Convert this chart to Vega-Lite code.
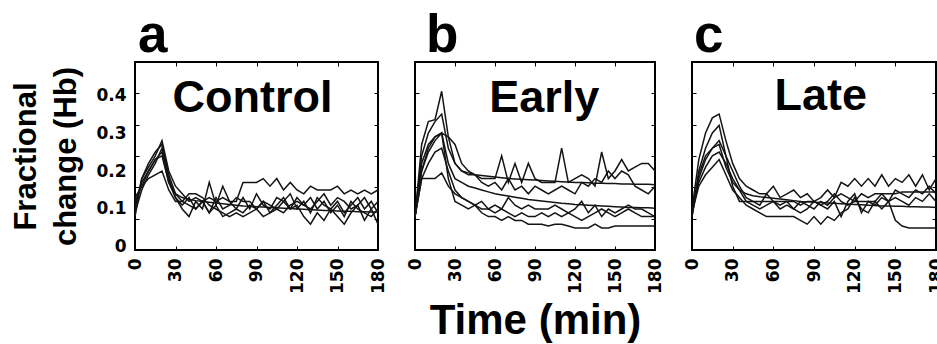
{
"$schema": "https://vega.github.io/schema/vega-lite/v6.json",
"padding": {"left": 9, "top": 8, "right": 0, "bottom": 0},
"bounds": "flush",
"spacing": 37,
"datasets": {
"a": [
{"s":1,"t":0,"v":0.10},{"s":1,"t":5,"v":0.18},{"s":1,"t":10,"v":0.21},{"s":1,"t":15,"v":0.24},{"s":1,"t":20,"v":0.28},{"s":1,"t":25,"v":0.20},{"s":1,"t":30,"v":0.16},{"s":1,"t":35,"v":0.14},{"s":1,"t":40,"v":0.12},{"s":1,"t":45,"v":0.13},{"s":1,"t":50,"v":0.12},{"s":1,"t":55,"v":0.13},{"s":1,"t":60,"v":0.12},{"s":1,"t":65,"v":0.13},{"s":1,"t":70,"v":0.12},{"s":1,"t":75,"v":0.12},{"s":1,"t":80,"v":0.17},{"s":1,"t":85,"v":0.17},{"s":1,"t":90,"v":0.17},{"s":1,"t":95,"v":0.18},{"s":1,"t":100,"v":0.16},{"s":1,"t":105,"v":0.18},{"s":1,"t":110,"v":0.15},{"s":1,"t":115,"v":0.17},{"s":1,"t":120,"v":0.15},{"s":1,"t":125,"v":0.14},{"s":1,"t":130,"v":0.16},{"s":1,"t":135,"v":0.15},{"s":1,"t":140,"v":0.15},{"s":1,"t":145,"v":0.15},{"s":1,"t":150,"v":0.16},{"s":1,"t":155,"v":0.14},{"s":1,"t":160,"v":0.15},{"s":1,"t":165,"v":0.14},{"s":1,"t":170,"v":0.15},{"s":1,"t":175,"v":0.14},{"s":1,"t":180,"v":0.15},
{"s":2,"t":0,"v":0.12},{"s":2,"t":5,"v":0.16},{"s":2,"t":10,"v":0.20},{"s":2,"t":15,"v":0.23},{"s":2,"t":20,"v":0.25},{"s":2,"t":25,"v":0.17},{"s":2,"t":30,"v":0.14},{"s":2,"t":35,"v":0.13},{"s":2,"t":40,"v":0.125},{"s":2,"t":45,"v":0.122},{"s":2,"t":50,"v":0.12},{"s":2,"t":55,"v":0.118},{"s":2,"t":60,"v":0.116},{"s":2,"t":65,"v":0.114},{"s":2,"t":70,"v":0.112},{"s":2,"t":75,"v":0.11},{"s":2,"t":80,"v":0.108},{"s":2,"t":85,"v":0.107},{"s":2,"t":90,"v":0.106},{"s":2,"t":95,"v":0.105},{"s":2,"t":100,"v":0.104},{"s":2,"t":105,"v":0.103},{"s":2,"t":110,"v":0.102},{"s":2,"t":115,"v":0.101},{"s":2,"t":120,"v":0.10},{"s":2,"t":125,"v":0.099},{"s":2,"t":130,"v":0.098},{"s":2,"t":135,"v":0.097},{"s":2,"t":140,"v":0.096},{"s":2,"t":145,"v":0.096},{"s":2,"t":150,"v":0.095},{"s":2,"t":155,"v":0.094},{"s":2,"t":160,"v":0.094},{"s":2,"t":165,"v":0.093},{"s":2,"t":170,"v":0.093},{"s":2,"t":175,"v":0.092},{"s":2,"t":180,"v":0.092},
{"s":3,"t":0,"v":0.09},{"s":3,"t":5,"v":0.15},{"s":3,"t":10,"v":0.19},{"s":3,"t":15,"v":0.22},{"s":3,"t":20,"v":0.26},{"s":3,"t":25,"v":0.18},{"s":3,"t":30,"v":0.13},{"s":3,"t":35,"v":0.10},{"s":3,"t":40,"v":0.08},{"s":3,"t":45,"v":0.12},{"s":3,"t":50,"v":0.10},{"s":3,"t":55,"v":0.17},{"s":3,"t":60,"v":0.11},{"s":3,"t":65,"v":0.16},{"s":3,"t":70,"v":0.12},{"s":3,"t":75,"v":0.10},{"s":3,"t":80,"v":0.13},{"s":3,"t":85,"v":0.10},{"s":3,"t":90,"v":0.14},{"s":3,"t":95,"v":0.11},{"s":3,"t":100,"v":0.10},{"s":3,"t":105,"v":0.13},{"s":3,"t":110,"v":0.12},{"s":3,"t":115,"v":0.14},{"s":3,"t":120,"v":0.10},{"s":3,"t":125,"v":0.12},{"s":3,"t":130,"v":0.09},{"s":3,"t":135,"v":0.13},{"s":3,"t":140,"v":0.11},{"s":3,"t":145,"v":0.10},{"s":3,"t":150,"v":0.12},{"s":3,"t":155,"v":0.09},{"s":3,"t":160,"v":0.11},{"s":3,"t":165,"v":0.13},{"s":3,"t":170,"v":0.10},{"s":3,"t":175,"v":0.12},{"s":3,"t":180,"v":0.09},
{"s":4,"t":0,"v":0.11},{"s":4,"t":5,"v":0.17},{"s":4,"t":10,"v":0.20},{"s":4,"t":15,"v":0.23},{"s":4,"t":20,"v":0.24},{"s":4,"t":25,"v":0.17},{"s":4,"t":30,"v":0.13},{"s":4,"t":35,"v":0.11},{"s":4,"t":40,"v":0.13},{"s":4,"t":45,"v":0.10},{"s":4,"t":50,"v":0.12},{"s":4,"t":55,"v":0.09},{"s":4,"t":60,"v":0.11},{"s":4,"t":65,"v":0.08},{"s":4,"t":70,"v":0.09},{"s":4,"t":75,"v":0.10},{"s":4,"t":80,"v":0.09},{"s":4,"t":85,"v":0.11},{"s":4,"t":90,"v":0.10},{"s":4,"t":95,"v":0.12},{"s":4,"t":100,"v":0.09},{"s":4,"t":105,"v":0.11},{"s":4,"t":110,"v":0.13},{"s":4,"t":115,"v":0.10},{"s":4,"t":120,"v":0.11},{"s":4,"t":125,"v":0.08},{"s":4,"t":130,"v":0.06},{"s":4,"t":135,"v":0.09},{"s":4,"t":140,"v":0.07},{"s":4,"t":145,"v":0.10},{"s":4,"t":150,"v":0.08},{"s":4,"t":155,"v":0.06},{"s":4,"t":160,"v":0.09},{"s":4,"t":165,"v":0.11},{"s":4,"t":170,"v":0.07},{"s":4,"t":175,"v":0.10},{"s":4,"t":180,"v":0.06},
{"s":5,"t":0,"v":0.13},{"s":5,"t":5,"v":0.16},{"s":5,"t":10,"v":0.18},{"s":5,"t":15,"v":0.19},{"s":5,"t":20,"v":0.20},{"s":5,"t":25,"v":0.15},{"s":5,"t":30,"v":0.12},{"s":5,"t":35,"v":0.12},{"s":5,"t":40,"v":0.14},{"s":5,"t":45,"v":0.14},{"s":5,"t":50,"v":0.13},{"s":5,"t":55,"v":0.11},{"s":5,"t":60,"v":0.10},{"s":5,"t":65,"v":0.09},{"s":5,"t":70,"v":0.08},{"s":5,"t":75,"v":0.09},{"s":5,"t":80,"v":0.08},{"s":5,"t":85,"v":0.09},{"s":5,"t":90,"v":0.10},{"s":5,"t":95,"v":0.08},{"s":5,"t":100,"v":0.09},{"s":5,"t":105,"v":0.10},{"s":5,"t":110,"v":0.09},{"s":5,"t":115,"v":0.11},{"s":5,"t":120,"v":0.12},{"s":5,"t":125,"v":0.11},{"s":5,"t":130,"v":0.13},{"s":5,"t":135,"v":0.10},{"s":5,"t":140,"v":0.12},{"s":5,"t":145,"v":0.09},{"s":5,"t":150,"v":0.11},{"s":5,"t":155,"v":0.08},{"s":5,"t":160,"v":0.12},{"s":5,"t":165,"v":0.10},{"s":5,"t":170,"v":0.09},{"s":5,"t":175,"v":0.08},{"s":5,"t":180,"v":0.10},
{"s":6,"t":0,"v":0.08},{"s":6,"t":5,"v":0.18},{"s":6,"t":10,"v":0.22},{"s":6,"t":15,"v":0.25},{"s":6,"t":20,"v":0.27},{"s":6,"t":25,"v":0.19},{"s":6,"t":30,"v":0.14},{"s":6,"t":35,"v":0.12},{"s":6,"t":40,"v":0.11},{"s":6,"t":45,"v":0.10},{"s":6,"t":50,"v":0.12},{"s":6,"t":55,"v":0.09},{"s":6,"t":60,"v":0.13},{"s":6,"t":65,"v":0.10},{"s":6,"t":70,"v":0.11},{"s":6,"t":75,"v":0.13},{"s":6,"t":80,"v":0.12},{"s":6,"t":85,"v":0.12},{"s":6,"t":90,"v":0.10},{"s":6,"t":95,"v":0.12},{"s":6,"t":100,"v":0.11},{"s":6,"t":105,"v":0.10},{"s":6,"t":110,"v":0.12},{"s":6,"t":115,"v":0.10},{"s":6,"t":120,"v":0.13},{"s":6,"t":125,"v":0.11},{"s":6,"t":130,"v":0.10},{"s":6,"t":135,"v":0.12},{"s":6,"t":140,"v":0.14},{"s":6,"t":145,"v":0.11},{"s":6,"t":150,"v":0.13},{"s":6,"t":155,"v":0.12},{"s":6,"t":160,"v":0.10},{"s":6,"t":165,"v":0.11},{"s":6,"t":170,"v":0.13},{"s":6,"t":175,"v":0.10},{"s":6,"t":180,"v":0.12}
],
"b": [
{"s":1,"t":0,"v":0.08},{"s":1,"t":5,"v":0.27},{"s":1,"t":10,"v":0.33},{"s":1,"t":15,"v":0.335},{"s":1,"t":20,"v":0.41},{"s":1,"t":25,"v":0.29},{"s":1,"t":30,"v":0.22},{"s":1,"t":35,"v":0.20},{"s":1,"t":40,"v":0.19},{"s":1,"t":45,"v":0.19},{"s":1,"t":50,"v":0.18},{"s":1,"t":55,"v":0.18},{"s":1,"t":60,"v":0.18},{"s":1,"t":65,"v":0.24},{"s":1,"t":70,"v":0.17},{"s":1,"t":75,"v":0.22},{"s":1,"t":80,"v":0.17},{"s":1,"t":85,"v":0.22},{"s":1,"t":90,"v":0.18},{"s":1,"t":95,"v":0.17},{"s":1,"t":100,"v":0.17},{"s":1,"t":105,"v":0.17},{"s":1,"t":110,"v":0.26},{"s":1,"t":115,"v":0.17},{"s":1,"t":120,"v":0.18},{"s":1,"t":125,"v":0.19},{"s":1,"t":130,"v":0.18},{"s":1,"t":135,"v":0.16},{"s":1,"t":140,"v":0.25},{"s":1,"t":145,"v":0.18},{"s":1,"t":150,"v":0.20},{"s":1,"t":155,"v":0.23},{"s":1,"t":160,"v":0.20},{"s":1,"t":165,"v":0.21},{"s":1,"t":170,"v":0.22},{"s":1,"t":175,"v":0.22},{"s":1,"t":180,"v":0.20},
{"s":2,"t":0,"v":0.08},{"s":2,"t":5,"v":0.24},{"s":2,"t":10,"v":0.30},{"s":2,"t":15,"v":0.33},{"s":2,"t":20,"v":0.35},{"s":2,"t":25,"v":0.26},{"s":2,"t":30,"v":0.22},{"s":2,"t":35,"v":0.20},{"s":2,"t":40,"v":0.195},{"s":2,"t":45,"v":0.19},{"s":2,"t":50,"v":0.188},{"s":2,"t":55,"v":0.186},{"s":2,"t":60,"v":0.184},{"s":2,"t":65,"v":0.182},{"s":2,"t":70,"v":0.18},{"s":2,"t":75,"v":0.179},{"s":2,"t":80,"v":0.178},{"s":2,"t":85,"v":0.177},{"s":2,"t":90,"v":0.176},{"s":2,"t":95,"v":0.175},{"s":2,"t":100,"v":0.174},{"s":2,"t":105,"v":0.173},{"s":2,"t":110,"v":0.172},{"s":2,"t":115,"v":0.171},{"s":2,"t":120,"v":0.17},{"s":2,"t":125,"v":0.17},{"s":2,"t":130,"v":0.169},{"s":2,"t":135,"v":0.168},{"s":2,"t":140,"v":0.168},{"s":2,"t":145,"v":0.167},{"s":2,"t":150,"v":0.167},{"s":2,"t":155,"v":0.166},{"s":2,"t":160,"v":0.166},{"s":2,"t":165,"v":0.165},{"s":2,"t":170,"v":0.165},{"s":2,"t":175,"v":0.165},{"s":2,"t":180,"v":0.164},
{"s":3,"t":0,"v":0.08},{"s":3,"t":5,"v":0.22},{"s":3,"t":10,"v":0.27},{"s":3,"t":15,"v":0.29},{"s":3,"t":20,"v":0.30},{"s":3,"t":25,"v":0.29},{"s":3,"t":30,"v":0.27},{"s":3,"t":35,"v":0.22},{"s":3,"t":40,"v":0.20},{"s":3,"t":45,"v":0.19},{"s":3,"t":50,"v":0.17},{"s":3,"t":55,"v":0.16},{"s":3,"t":60,"v":0.17},{"s":3,"t":65,"v":0.15},{"s":3,"t":70,"v":0.18},{"s":3,"t":75,"v":0.15},{"s":3,"t":80,"v":0.16},{"s":3,"t":85,"v":0.14},{"s":3,"t":90,"v":0.16},{"s":3,"t":95,"v":0.15},{"s":3,"t":100,"v":0.14},{"s":3,"t":105,"v":0.15},{"s":3,"t":110,"v":0.16},{"s":3,"t":115,"v":0.15},{"s":3,"t":120,"v":0.14},{"s":3,"t":125,"v":0.17},{"s":3,"t":130,"v":0.16},{"s":3,"t":135,"v":0.18},{"s":3,"t":140,"v":0.17},{"s":3,"t":145,"v":0.20},{"s":3,"t":150,"v":0.18},{"s":3,"t":155,"v":0.20},{"s":3,"t":160,"v":0.19},{"s":3,"t":165,"v":0.16},{"s":3,"t":170,"v":0.15},{"s":3,"t":175,"v":0.14},{"s":3,"t":180,"v":0.16},
{"s":4,"t":0,"v":0.08},{"s":4,"t":5,"v":0.20},{"s":4,"t":10,"v":0.26},{"s":4,"t":15,"v":0.29},{"s":4,"t":20,"v":0.30},{"s":4,"t":25,"v":0.22},{"s":4,"t":30,"v":0.18},{"s":4,"t":35,"v":0.17},{"s":4,"t":40,"v":0.16},{"s":4,"t":45,"v":0.155},{"s":4,"t":50,"v":0.15},{"s":4,"t":55,"v":0.145},{"s":4,"t":60,"v":0.14},{"s":4,"t":65,"v":0.137},{"s":4,"t":70,"v":0.134},{"s":4,"t":75,"v":0.131},{"s":4,"t":80,"v":0.128},{"s":4,"t":85,"v":0.125},{"s":4,"t":90,"v":0.123},{"s":4,"t":95,"v":0.121},{"s":4,"t":100,"v":0.119},{"s":4,"t":105,"v":0.117},{"s":4,"t":110,"v":0.115},{"s":4,"t":115,"v":0.114},{"s":4,"t":120,"v":0.112},{"s":4,"t":125,"v":0.111},{"s":4,"t":130,"v":0.11},{"s":4,"t":135,"v":0.109},{"s":4,"t":140,"v":0.108},{"s":4,"t":145,"v":0.107},{"s":4,"t":150,"v":0.106},{"s":4,"t":155,"v":0.105},{"s":4,"t":160,"v":0.104},{"s":4,"t":165,"v":0.104},{"s":4,"t":170,"v":0.103},{"s":4,"t":175,"v":0.103},{"s":4,"t":180,"v":0.102},
{"s":5,"t":0,"v":0.08},{"s":5,"t":5,"v":0.18},{"s":5,"t":10,"v":0.22},{"s":5,"t":15,"v":0.25},{"s":5,"t":20,"v":0.26},{"s":5,"t":25,"v":0.20},{"s":5,"t":30,"v":0.15},{"s":5,"t":35,"v":0.13},{"s":5,"t":40,"v":0.12},{"s":5,"t":45,"v":0.11},{"s":5,"t":50,"v":0.12},{"s":5,"t":55,"v":0.10},{"s":5,"t":60,"v":0.09},{"s":5,"t":65,"v":0.10},{"s":5,"t":70,"v":0.13},{"s":5,"t":75,"v":0.11},{"s":5,"t":80,"v":0.10},{"s":5,"t":85,"v":0.11},{"s":5,"t":90,"v":0.10},{"s":5,"t":95,"v":0.10},{"s":5,"t":100,"v":0.10},{"s":5,"t":105,"v":0.11},{"s":5,"t":110,"v":0.10},{"s":5,"t":115,"v":0.09},{"s":5,"t":120,"v":0.10},{"s":5,"t":125,"v":0.12},{"s":5,"t":130,"v":0.09},{"s":5,"t":135,"v":0.11},{"s":5,"t":140,"v":0.08},{"s":5,"t":145,"v":0.10},{"s":5,"t":150,"v":0.09},{"s":5,"t":155,"v":0.10},{"s":5,"t":160,"v":0.11},{"s":5,"t":165,"v":0.10},{"s":5,"t":170,"v":0.10},{"s":5,"t":175,"v":0.09},{"s":5,"t":180,"v":0.08},
{"s":6,"t":0,"v":0.08},{"s":6,"t":5,"v":0.20},{"s":6,"t":10,"v":0.25},{"s":6,"t":15,"v":0.28},{"s":6,"t":20,"v":0.30},{"s":6,"t":25,"v":0.18},{"s":6,"t":30,"v":0.12},{"s":6,"t":35,"v":0.11},{"s":6,"t":40,"v":0.10},{"s":6,"t":45,"v":0.11},{"s":6,"t":50,"v":0.09},{"s":6,"t":55,"v":0.08},{"s":6,"t":60,"v":0.08},{"s":6,"t":65,"v":0.07},{"s":6,"t":70,"v":0.08},{"s":6,"t":75,"v":0.07},{"s":6,"t":80,"v":0.07},{"s":6,"t":85,"v":0.06},{"s":6,"t":90,"v":0.06},{"s":6,"t":95,"v":0.06},{"s":6,"t":100,"v":0.055},{"s":6,"t":105,"v":0.06},{"s":6,"t":110,"v":0.06},{"s":6,"t":115,"v":0.055},{"s":6,"t":120,"v":0.05},{"s":6,"t":125,"v":0.05},{"s":6,"t":130,"v":0.05},{"s":6,"t":135,"v":0.06},{"s":6,"t":140,"v":0.05},{"s":6,"t":145,"v":0.05},{"s":6,"t":150,"v":0.055},{"s":6,"t":155,"v":0.055},{"s":6,"t":160,"v":0.055},{"s":6,"t":165,"v":0.055},{"s":6,"t":170,"v":0.055},{"s":6,"t":175,"v":0.055},{"s":6,"t":180,"v":0.055},
{"s":7,"t":0,"v":0.08},{"s":7,"t":5,"v":0.18},{"s":7,"t":10,"v":0.18},{"s":7,"t":15,"v":0.18},{"s":7,"t":20,"v":0.195},{"s":7,"t":25,"v":0.16},{"s":7,"t":30,"v":0.14},{"s":7,"t":35,"v":0.13},{"s":7,"t":40,"v":0.12},{"s":7,"t":45,"v":0.11},{"s":7,"t":50,"v":0.10},{"s":7,"t":55,"v":0.10},{"s":7,"t":60,"v":0.11},{"s":7,"t":65,"v":0.10},{"s":7,"t":70,"v":0.09},{"s":7,"t":75,"v":0.08},{"s":7,"t":80,"v":0.09},{"s":7,"t":85,"v":0.08},{"s":7,"t":90,"v":0.08},{"s":7,"t":95,"v":0.09},{"s":7,"t":100,"v":0.08},{"s":7,"t":105,"v":0.09},{"s":7,"t":110,"v":0.08},{"s":7,"t":115,"v":0.09},{"s":7,"t":120,"v":0.08},{"s":7,"t":125,"v":0.07},{"s":7,"t":130,"v":0.08},{"s":7,"t":135,"v":0.09},{"s":7,"t":140,"v":0.10},{"s":7,"t":145,"v":0.09},{"s":7,"t":150,"v":0.08},{"s":7,"t":155,"v":0.09},{"s":7,"t":160,"v":0.10},{"s":7,"t":165,"v":0.09},{"s":7,"t":170,"v":0.08},{"s":7,"t":175,"v":0.08},{"s":7,"t":180,"v":0.08}
],
"c": [
{"s":1,"t":0,"v":0.10},{"s":1,"t":5,"v":0.23},{"s":1,"t":10,"v":0.30},{"s":1,"t":15,"v":0.34},{"s":1,"t":20,"v":0.35},{"s":1,"t":25,"v":0.28},{"s":1,"t":30,"v":0.22},{"s":1,"t":35,"v":0.18},{"s":1,"t":40,"v":0.16},{"s":1,"t":45,"v":0.15},{"s":1,"t":50,"v":0.14},{"s":1,"t":55,"v":0.14},{"s":1,"t":60,"v":0.16},{"s":1,"t":65,"v":0.13},{"s":1,"t":70,"v":0.14},{"s":1,"t":75,"v":0.15},{"s":1,"t":80,"v":0.13},{"s":1,"t":85,"v":0.14},{"s":1,"t":90,"v":0.12},{"s":1,"t":95,"v":0.13},{"s":1,"t":100,"v":0.15},{"s":1,"t":105,"v":0.13},{"s":1,"t":110,"v":0.17},{"s":1,"t":115,"v":0.16},{"s":1,"t":120,"v":0.18},{"s":1,"t":125,"v":0.16},{"s":1,"t":130,"v":0.18},{"s":1,"t":135,"v":0.16},{"s":1,"t":140,"v":0.19},{"s":1,"t":145,"v":0.16},{"s":1,"t":150,"v":0.18},{"s":1,"t":155,"v":0.17},{"s":1,"t":160,"v":0.19},{"s":1,"t":165,"v":0.16},{"s":1,"t":170,"v":0.19},{"s":1,"t":175,"v":0.15},{"s":1,"t":180,"v":0.18},
{"s":2,"t":0,"v":0.08},{"s":2,"t":5,"v":0.20},{"s":2,"t":10,"v":0.26},{"s":2,"t":15,"v":0.30},{"s":2,"t":20,"v":0.32},{"s":2,"t":25,"v":0.24},{"s":2,"t":30,"v":0.16},{"s":2,"t":35,"v":0.12},{"s":2,"t":40,"v":0.12},{"s":2,"t":45,"v":0.12},{"s":2,"t":50,"v":0.12},{"s":2,"t":55,"v":0.12},{"s":2,"t":60,"v":0.12},{"s":2,"t":65,"v":0.12},{"s":2,"t":70,"v":0.12},{"s":2,"t":75,"v":0.12},{"s":2,"t":80,"v":0.11},{"s":2,"t":85,"v":0.12},{"s":2,"t":90,"v":0.12},{"s":2,"t":95,"v":0.11},{"s":2,"t":100,"v":0.12},{"s":2,"t":105,"v":0.14},{"s":2,"t":110,"v":0.12},{"s":2,"t":115,"v":0.11},{"s":2,"t":120,"v":0.12},{"s":2,"t":125,"v":0.12},{"s":2,"t":130,"v":0.12},{"s":2,"t":135,"v":0.12},{"s":2,"t":140,"v":0.14},{"s":2,"t":145,"v":0.14},{"s":2,"t":150,"v":0.14},{"s":2,"t":155,"v":0.145},{"s":2,"t":160,"v":0.145},{"s":2,"t":165,"v":0.145},{"s":2,"t":170,"v":0.145},{"s":2,"t":175,"v":0.145},{"s":2,"t":180,"v":0.145},
{"s":3,"t":0,"v":0.08},{"s":3,"t":5,"v":0.18},{"s":3,"t":10,"v":0.23},{"s":3,"t":15,"v":0.26},{"s":3,"t":20,"v":0.27},{"s":3,"t":25,"v":0.21},{"s":3,"t":30,"v":0.17},{"s":3,"t":35,"v":0.15},{"s":3,"t":40,"v":0.14},{"s":3,"t":45,"v":0.135},{"s":3,"t":50,"v":0.132},{"s":3,"t":55,"v":0.13},{"s":3,"t":60,"v":0.128},{"s":3,"t":65,"v":0.126},{"s":3,"t":70,"v":0.124},{"s":3,"t":75,"v":0.122},{"s":3,"t":80,"v":0.12},{"s":3,"t":85,"v":0.119},{"s":3,"t":90,"v":0.118},{"s":3,"t":95,"v":0.117},{"s":3,"t":100,"v":0.116},{"s":3,"t":105,"v":0.115},{"s":3,"t":110,"v":0.114},{"s":3,"t":115,"v":0.113},{"s":3,"t":120,"v":0.112},{"s":3,"t":125,"v":0.111},{"s":3,"t":130,"v":0.11},{"s":3,"t":135,"v":0.109},{"s":3,"t":140,"v":0.108},{"s":3,"t":145,"v":0.108},{"s":3,"t":150,"v":0.107},{"s":3,"t":155,"v":0.107},{"s":3,"t":160,"v":0.106},{"s":3,"t":165,"v":0.106},{"s":3,"t":170,"v":0.105},{"s":3,"t":175,"v":0.105},{"s":3,"t":180,"v":0.104},
{"s":4,"t":0,"v":0.10},{"s":4,"t":5,"v":0.17},{"s":4,"t":10,"v":0.21},{"s":4,"t":15,"v":0.24},{"s":4,"t":20,"v":0.25},{"s":4,"t":25,"v":0.22},{"s":4,"t":30,"v":0.18},{"s":4,"t":35,"v":0.15},{"s":4,"t":40,"v":0.12},{"s":4,"t":45,"v":0.11},{"s":4,"t":50,"v":0.10},{"s":4,"t":55,"v":0.11},{"s":4,"t":60,"v":0.12},{"s":4,"t":65,"v":0.10},{"s":4,"t":70,"v":0.11},{"s":4,"t":75,"v":0.10},{"s":4,"t":80,"v":0.12},{"s":4,"t":85,"v":0.11},{"s":4,"t":90,"v":0.10},{"s":4,"t":95,"v":0.12},{"s":4,"t":100,"v":0.11},{"s":4,"t":105,"v":0.13},{"s":4,"t":110,"v":0.14},{"s":4,"t":115,"v":0.13},{"s":4,"t":120,"v":0.12},{"s":4,"t":125,"v":0.14},{"s":4,"t":130,"v":0.13},{"s":4,"t":135,"v":0.14},{"s":4,"t":140,"v":0.14},{"s":4,"t":145,"v":0.12},{"s":4,"t":150,"v":0.07},{"s":4,"t":155,"v":0.055},{"s":4,"t":160,"v":0.05},{"s":4,"t":165,"v":0.05},{"s":4,"t":170,"v":0.05},{"s":4,"t":175,"v":0.05},{"s":4,"t":180,"v":0.05},
{"s":5,"t":0,"v":0.09},{"s":5,"t":5,"v":0.16},{"s":5,"t":10,"v":0.19},{"s":5,"t":15,"v":0.21},{"s":5,"t":20,"v":0.23},{"s":5,"t":25,"v":0.19},{"s":5,"t":30,"v":0.15},{"s":5,"t":35,"v":0.13},{"s":5,"t":40,"v":0.11},{"s":5,"t":45,"v":0.10},{"s":5,"t":50,"v":0.09},{"s":5,"t":55,"v":0.08},{"s":5,"t":60,"v":0.08},{"s":5,"t":65,"v":0.08},{"s":5,"t":70,"v":0.08},{"s":5,"t":75,"v":0.08},{"s":5,"t":80,"v":0.07},{"s":5,"t":85,"v":0.06},{"s":5,"t":90,"v":0.08},{"s":5,"t":95,"v":0.06},{"s":5,"t":100,"v":0.08},{"s":5,"t":105,"v":0.07},{"s":5,"t":110,"v":0.09},{"s":5,"t":115,"v":0.10},{"s":5,"t":120,"v":0.13},{"s":5,"t":125,"v":0.10},{"s":5,"t":130,"v":0.09},{"s":5,"t":135,"v":0.12},{"s":5,"t":140,"v":0.10},{"s":5,"t":145,"v":0.12},{"s":5,"t":150,"v":0.13},{"s":5,"t":155,"v":0.12},{"s":5,"t":160,"v":0.11},{"s":5,"t":165,"v":0.13},{"s":5,"t":170,"v":0.12},{"s":5,"t":175,"v":0.14},{"s":5,"t":180,"v":0.12},
{"s":6,"t":0,"v":0.09},{"s":6,"t":5,"v":0.19},{"s":6,"t":10,"v":0.24},{"s":6,"t":15,"v":0.26},{"s":6,"t":20,"v":0.28},{"s":6,"t":25,"v":0.24},{"s":6,"t":30,"v":0.20},{"s":6,"t":35,"v":0.16},{"s":6,"t":40,"v":0.13},{"s":6,"t":45,"v":0.12},{"s":6,"t":50,"v":0.11},{"s":6,"t":55,"v":0.14},{"s":6,"t":60,"v":0.12},{"s":6,"t":65,"v":0.11},{"s":6,"t":70,"v":0.12},{"s":6,"t":75,"v":0.10},{"s":6,"t":80,"v":0.09},{"s":6,"t":85,"v":0.10},{"s":6,"t":90,"v":0.12},{"s":6,"t":95,"v":0.11},{"s":6,"t":100,"v":0.10},{"s":6,"t":105,"v":0.12},{"s":6,"t":110,"v":0.08},{"s":6,"t":115,"v":0.12},{"s":6,"t":120,"v":0.14},{"s":6,"t":125,"v":0.09},{"s":6,"t":130,"v":0.12},{"s":6,"t":135,"v":0.11},{"s":6,"t":140,"v":0.13},{"s":6,"t":145,"v":0.12},{"s":6,"t":150,"v":0.15},{"s":6,"t":155,"v":0.14},{"s":6,"t":160,"v":0.13},{"s":6,"t":165,"v":0.15},{"s":6,"t":170,"v":0.14},{"s":6,"t":175,"v":0.16},{"s":6,"t":180,"v":0.14}
]
},
"hconcat": [
{
"width": 243, "height": 188,
"title": {"text": "a", "dx": 3},
"layer": [
{"data": {"name": "a"}, "mark": {"type": "line", "stroke": "#141414", "strokeWidth": 1.5},
 "encoding": {
  "x": {"field": "t", "type": "quantitative", "scale": {"domain": [0, 180], "nice": false, "zero": false},
        "axis": {"values": [0,30,60,90,120,150,180], "labelAngle": 270, "labelFontSize": 17, "labelPadding": 12, "tickSize": -4, "title": null}},
  "y": {"field": "v", "type": "quantitative", "scale": {"domain": [-0.008, 0.487], "nice": false, "zero": false},
        "axis": {"values": [0,0.1,0.2,0.3,0.4], "ticks": false, "labelFontSize": 17, "labelPadding": 9, "labelExpr": "datum.value == 0 ? '0' : format(datum.value, '.1f')",
                 "title": ["Fractional", "change (Hb)"], "titleFont": "Liberation Sans", "titleFontSize": 31, "titleFontWeight": "bold", "titleLineHeight": 40, "titlePadding": 13}},
  "detail": {"field": "s", "type": "nominal"}}},
{"data": {"name": "a"}, "mark": {"type": "line", "strokeOpacity": 0},
 "encoding": {
  "x": {"field": "t", "type": "quantitative", "scale": {"domain": [0, 180], "nice": false, "zero": false},
        "axis": {"orient": "top", "values": [30,60,90,120,150], "labels": false, "tickSize": -4, "title": null}},
  "y": {"field": "v", "type": "quantitative", "scale": {"domain": [0, 6], "nice": false, "zero": false},
        "axis": {"orient": "right", "values": [1,2,3,4,5], "labels": false, "tickSize": -4, "title": null}},
  "detail": {"field": "s", "type": "nominal"}}},
{"data": {"name": "a"}, "mark": {"type": "line", "strokeOpacity": 0},
 "encoding": {
  "x": {"field": "t", "type": "quantitative", "scale": {"domain": [0, 180], "nice": false, "zero": false}, "axis": null},
  "y": {"field": "v", "type": "quantitative", "scale": {"domain": [0, 6], "nice": false, "zero": false},
        "axis": {"orient": "left", "values": [1,2,3,4,5], "labels": false, "tickSize": -4, "title": null}},
  "detail": {"field": "s", "type": "nominal"}}},
{"data": {"values": [{"label": "Control"}]}, "mark": {"type": "text", "font": "Liberation Sans", "fontSize": 45, "fontWeight": "bold", "baseline": "alphabetic", "align": "center", "color": "#000"},
 "encoding": {
  "x": {"datum": 87, "type": "quantitative", "scale": {"domain": [0, 180], "nice": false, "zero": false}, "axis": null},
  "y": {"datum": 0.355, "type": "quantitative", "scale": {"domain": [-0.008, 0.487], "nice": false, "zero": false}, "axis": null},
  "text": {"field": "label"}}}
],
"resolve": {"scale": {"x": "independent", "y": "independent"}}
},
{
"width": 240, "height": 188,
"title": {"text": "b", "dx": 11},
"layer": [
{"data": {"name": "b"}, "mark": {"type": "line", "stroke": "#141414", "strokeWidth": 1.5},
 "encoding": {
  "x": {"field": "t", "type": "quantitative", "scale": {"domain": [0, 180], "nice": false, "zero": false},
        "axis": {"values": [0,30,60,90,120,150,180], "labelAngle": 270, "labelFontSize": 17, "labelPadding": 12, "tickSize": -4,
                 "title": "Time (min)", "titleFont": "Liberation Sans", "titleFontSize": 42, "titleFontWeight": "bold", "titlePadding": 7}},
  "y": {"field": "v", "type": "quantitative", "scale": {"domain": [-0.008, 0.487], "nice": false, "zero": false}, "axis": null},
  "detail": {"field": "s", "type": "nominal"}}},
{"data": {"name": "b"}, "mark": {"type": "line", "strokeOpacity": 0},
 "encoding": {
  "x": {"field": "t", "type": "quantitative", "scale": {"domain": [0, 180], "nice": false, "zero": false},
        "axis": {"orient": "top", "values": [30,60,90,120,150], "labels": false, "tickSize": -4, "title": null}},
  "y": {"field": "v", "type": "quantitative", "scale": {"domain": [0, 6], "nice": false, "zero": false},
        "axis": {"orient": "right", "values": [1,2,3,4,5], "labels": false, "tickSize": -4, "title": null}},
  "detail": {"field": "s", "type": "nominal"}}},
{"data": {"name": "b"}, "mark": {"type": "line", "strokeOpacity": 0},
 "encoding": {
  "x": {"field": "t", "type": "quantitative", "scale": {"domain": [0, 180], "nice": false, "zero": false}, "axis": null},
  "y": {"field": "v", "type": "quantitative", "scale": {"domain": [0, 6], "nice": false, "zero": false},
        "axis": {"orient": "left", "values": [1,2,3,4,5], "labels": false, "tickSize": -4, "title": null}},
  "detail": {"field": "s", "type": "nominal"}}},
{"data": {"values": [{"label": "Early"}]}, "mark": {"type": "text", "font": "Liberation Sans", "fontSize": 45, "fontWeight": "bold", "baseline": "alphabetic", "align": "center", "color": "#000"},
 "encoding": {
  "x": {"datum": 97, "type": "quantitative", "scale": {"domain": [0, 180], "nice": false, "zero": false}, "axis": null},
  "y": {"datum": 0.355, "type": "quantitative", "scale": {"domain": [-0.008, 0.487], "nice": false, "zero": false}, "axis": null},
  "text": {"field": "label"}}}
],
"resolve": {"scale": {"x": "independent", "y": "independent"}}
},
{
"width": 244, "height": 188,
"title": {"text": "c", "dx": 2},
"layer": [
{"data": {"name": "c"}, "mark": {"type": "line", "stroke": "#141414", "strokeWidth": 1.5},
 "encoding": {
  "x": {"field": "t", "type": "quantitative", "scale": {"domain": [0, 180], "nice": false, "zero": false},
        "axis": {"values": [0,30,60,90,120,150,180], "labelAngle": 270, "labelFontSize": 17, "labelPadding": 12, "tickSize": -4, "title": null}},
  "y": {"field": "v", "type": "quantitative", "scale": {"domain": [-0.008, 0.487], "nice": false, "zero": false}, "axis": null},
  "detail": {"field": "s", "type": "nominal"}}},
{"data": {"name": "c"}, "mark": {"type": "line", "strokeOpacity": 0},
 "encoding": {
  "x": {"field": "t", "type": "quantitative", "scale": {"domain": [0, 180], "nice": false, "zero": false},
        "axis": {"orient": "top", "values": [30,60,90,120,150], "labels": false, "tickSize": -4, "title": null}},
  "y": {"field": "v", "type": "quantitative", "scale": {"domain": [0, 6], "nice": false, "zero": false},
        "axis": {"orient": "right", "values": [1,2,3,4,5], "labels": false, "tickSize": -4, "title": null}},
  "detail": {"field": "s", "type": "nominal"}}},
{"data": {"name": "c"}, "mark": {"type": "line", "strokeOpacity": 0},
 "encoding": {
  "x": {"field": "t", "type": "quantitative", "scale": {"domain": [0, 180], "nice": false, "zero": false}, "axis": null},
  "y": {"field": "v", "type": "quantitative", "scale": {"domain": [0, 6], "nice": false, "zero": false},
        "axis": {"orient": "left", "values": [1,2,3,4,5], "labels": false, "tickSize": -4, "title": null}},
  "detail": {"field": "s", "type": "nominal"}}},
{"data": {"values": [{"label": "Late"}]}, "mark": {"type": "text", "font": "Liberation Sans", "fontSize": 45, "fontWeight": "bold", "baseline": "alphabetic", "align": "center", "color": "#000"},
 "encoding": {
  "x": {"datum": 95, "type": "quantitative", "scale": {"domain": [0, 180], "nice": false, "zero": false}, "axis": null},
  "y": {"datum": 0.36, "type": "quantitative", "scale": {"domain": [-0.008, 0.487], "nice": false, "zero": false}, "axis": null},
  "text": {"field": "label"}}}
],
"resolve": {"scale": {"x": "independent", "y": "independent"}}
}
],
"config": {
  "background": "#ffffff",
  "view": {"stroke": "#000000", "strokeWidth": 2},
  "axis": {"grid": false, "domain": false, "labelFont": "DejaVu Sans", "labelFontWeight": "bold", "labelColor": "#000000", "tickColor": "#000000", "tickWidth": 1, "titleColor": "#000000"},
  "title": {"anchor": "start", "frame": "group", "font": "Liberation Sans", "fontSize": 53, "fontWeight": "bold", "color": "#000000", "baseline": "alphabetic", "offset": -1}
}
}
